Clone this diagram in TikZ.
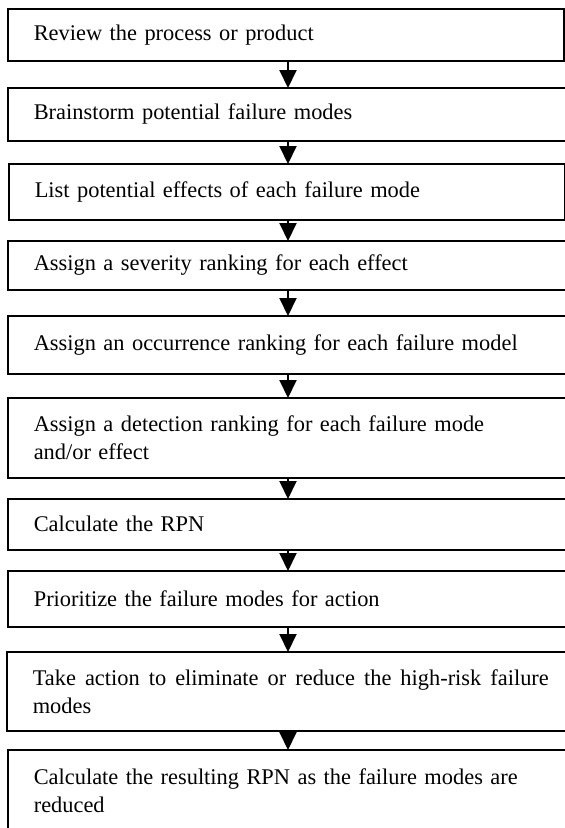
\documentclass[tikz,border=0pt]{standalone}
\usepackage{fontspec}
\setmainfont{Liberation Serif}
\usetikzlibrary{arrows.meta}
\tikzset{
  box/.style={draw=black, line width=1.6pt, fill=white, anchor=north west,
    inner xsep=26pt, inner ysep=0pt, align=left,
    font=\fontsize{22.4}{28}\selectfont},
  arr/.style={line width=2pt, -{Triangle[width=17pt,length=18pt]}, shorten >=-1pt}
}
\newcommand{\wsp}{\hspace{0pt plus 1fil}\ }
\begin{document}
\begin{tikzpicture}[x=1pt,y=-1pt]
\useasboundingbox (0,0) rectangle (565,828);
\fill[white] (0,0) rectangle (565,828);
\clip (0,0) rectangle (565,828);
\node[box, text width=504pt, minimum height=52pt] (b1) at (7,8) {Review the process or product};
\node[box, text width=543pt, minimum height=53pt] (b2) at (7,87) {Brainstorm potential failure modes};
\node[box, text width=504pt, minimum height=56pt] (b3) at (8,163) {List potential effects of each failure mode};
\node[box, text width=543pt, minimum height=49pt] (b4) at (7,240) {Assign a severity ranking for each effect};
\node[box, text width=543pt, minimum height=58pt] (b5) at (7,315) {Assign an occurrence ranking for each failure model};
\node[box, text width=543pt, minimum height=80pt] (b6) at (7,397) {Assign a detection ranking for each failure mode\\and/or effect};
\node[box, text width=543pt, minimum height=51pt] (b7) at (7,498) {Calculate the RPN};
\node[box, text width=543pt, minimum height=56pt] (b8) at (7,570) {Prioritize the failure modes for action};
\node[box, text width=543pt, minimum height=79pt] (b9) at (6,651) {\hbox to 516pt{Take\wsp action\wsp to\wsp eliminate\wsp or\wsp reduce\wsp the\wsp high-risk\wsp failure}\\modes};
\node[box, text width=543pt, minimum height=81pt] (b10) at (7,749) {Calculate the resulting RPN as the failure modes are\\reduced};
\coordinate (ax) at (288,0);
\draw[arr] (b1.south -| ax) -- (b2.north -| ax);
\draw[arr] (b2.south -| ax) -- (b3.north -| ax);
\draw[arr] (b3.south -| ax) -- (b4.north -| ax);
\draw[arr] (b4.south -| ax) -- (b5.north -| ax);
\draw[arr] (b5.south -| ax) -- (b6.north -| ax);
\draw[arr] (b6.south -| ax) -- (b7.north -| ax);
\draw[arr] (b7.south -| ax) -- (b8.north -| ax);
\draw[arr] (b8.south -| ax) -- (b9.north -| ax);
\draw[arr] (b9.south -| ax) -- (b10.north -| ax);
\end{tikzpicture}
\end{document}
